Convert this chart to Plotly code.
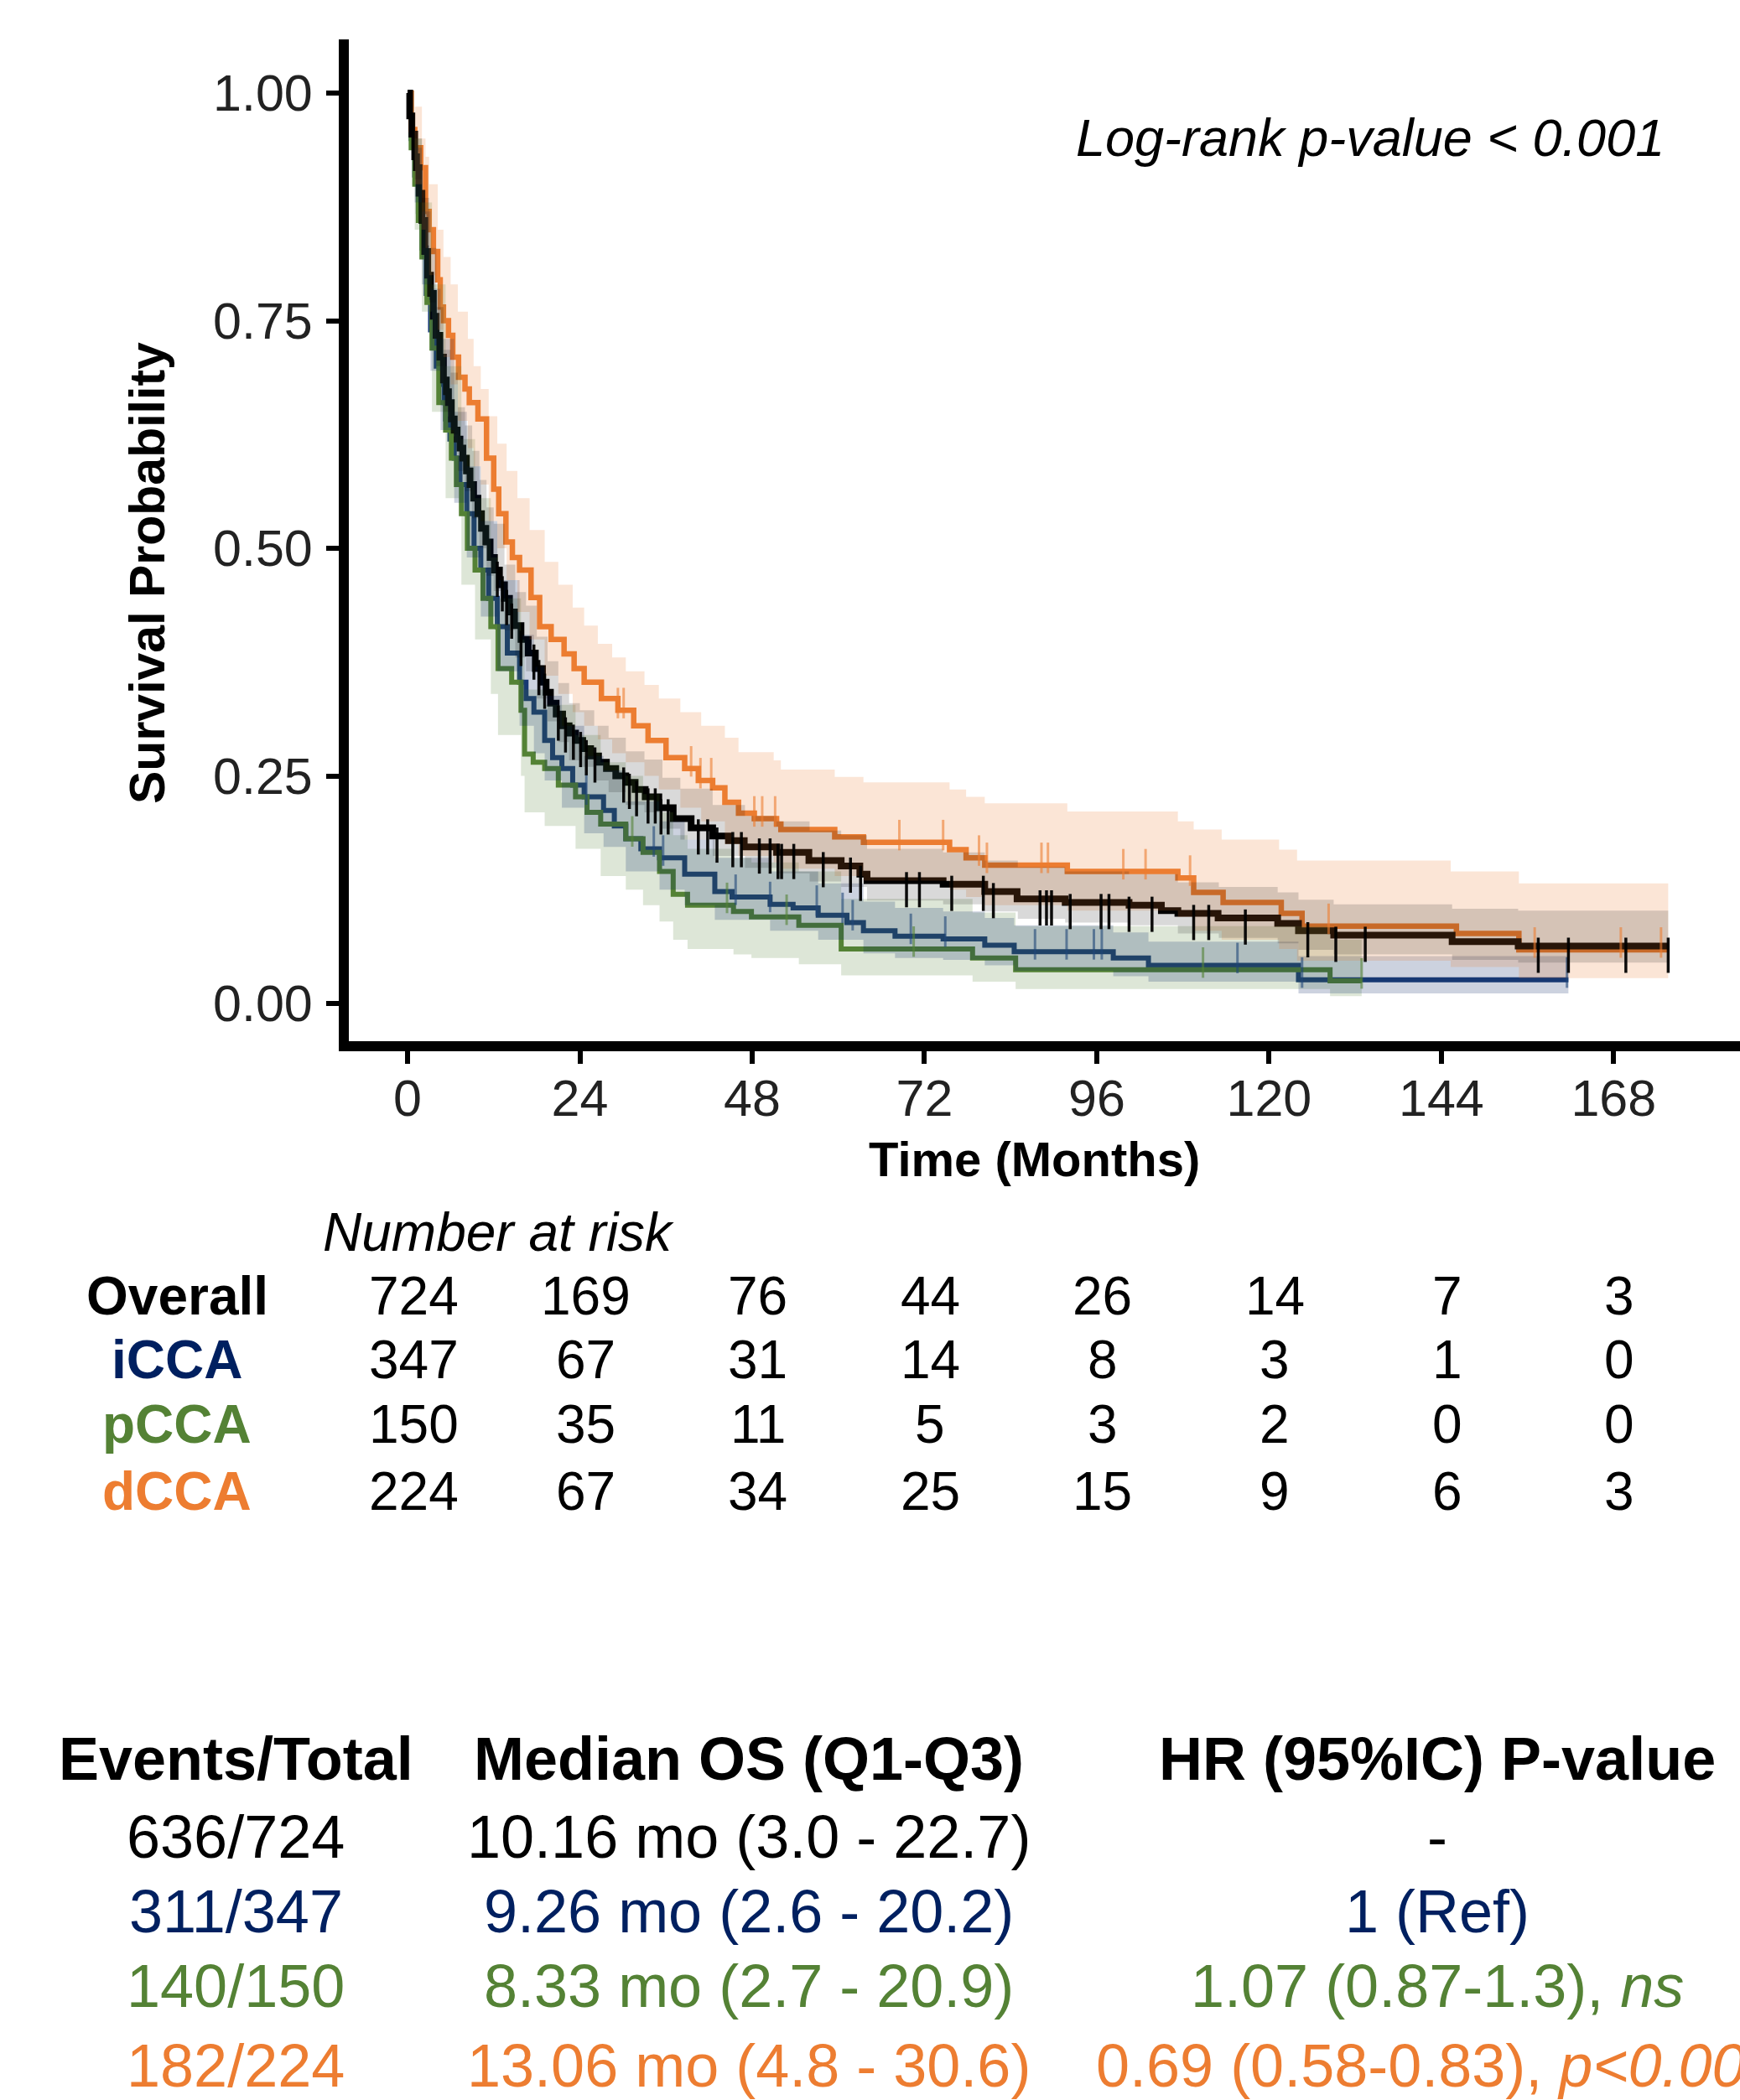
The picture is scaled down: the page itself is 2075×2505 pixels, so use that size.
import plotly.graph_objects as go
import numpy as np

# ---------------- data ----------------
OVERALL_T = [0, 0.3, 0.6, 1.0, 1.25, 1.6, 2.0, 2.4, 2.8, 3.2, 3.6, 3.97, 4.5, 5.0, 5.4, 5.7, 6.1, 6.5, 6.9, 7.3,
             7.7, 8.2, 8.7, 9.2, 9.8, 10.3, 10.9, 11.5, 12.1, 12.8, 13.5, 14.2, 14.9, 15.8, 16.8, 17.8, 18.8, 19.3,
             19.9, 20.7, 21.6, 22.5, 23.4, 24.4, 25.5, 26.6, 27.7, 29.0, 30.4, 31.7, 33.1, 35.0, 37.0, 39.5, 42.5,
             44.7, 46.9, 51.4, 55.9, 60.4, 63.0, 64.0, 74.6, 80.4, 84.9, 91.6, 100.5, 105.0, 107.3, 112.9, 121.2,
             124.1, 129.0, 145.5, 154.7, 175.6]
OVERALL_S = [1.0, 0.975, 0.955, 0.93, 0.918, 0.89, 0.86, 0.826, 0.80, 0.78, 0.755, 0.734, 0.71, 0.685, 0.672, 0.660,
             0.642, 0.63, 0.62, 0.61, 0.599, 0.585, 0.57, 0.555, 0.538, 0.522, 0.507, 0.49, 0.476, 0.46, 0.445, 0.43,
             0.415, 0.40, 0.385, 0.368, 0.353, 0.342, 0.330, 0.318, 0.305, 0.297, 0.289, 0.280, 0.272, 0.265, 0.258,
             0.25, 0.243, 0.235, 0.227, 0.215, 0.203, 0.193, 0.184, 0.179, 0.172, 0.166, 0.157, 0.151, 0.142, 0.135,
             0.131, 0.123, 0.115, 0.111, 0.108, 0.102, 0.099, 0.094, 0.088, 0.080, 0.075, 0.068, 0.063, 0.063]

ORANGE_T = [0, 0.5, 1.0, 1.83, 2.5, 3.0, 3.6, 4.2, 4.55, 5.0, 5.7, 6.3, 7.1, 8.0, 8.6, 9.8, 11.0, 12.0, 12.7, 13.7,
            14.6, 15.6, 17.2, 18.4, 20.0, 21.8, 23.2, 24.6, 27.0, 29.3, 31.5, 33.5, 36.0, 38.6, 40.5, 42.5, 44.2,
            46.1, 48.3, 51.4, 52.0, 59.5, 63.5, 75.5, 77.8, 80.4, 91.9, 107.3, 109.5, 113.6, 121.7, 124.6, 146.1,
            154.8, 175.6]
ORANGE_S = [1.0, 0.96, 0.94, 0.918, 0.87, 0.85, 0.826, 0.795, 0.765, 0.75, 0.734, 0.71, 0.688, 0.675, 0.660, 0.642,
            0.599, 0.565, 0.538, 0.507, 0.49, 0.476, 0.446, 0.414, 0.40, 0.384, 0.368, 0.353, 0.335, 0.322, 0.305,
            0.289, 0.27, 0.258, 0.245, 0.237, 0.221, 0.209, 0.203, 0.197, 0.191, 0.183, 0.177, 0.169, 0.160, 0.152,
            0.145, 0.138, 0.122, 0.111, 0.099, 0.085, 0.077, 0.059, 0.059]

BLUE_T = [0, 0.5, 1.0, 1.5, 2.0, 2.6, 3.2, 4.0, 4.6, 5.1, 5.3, 5.9, 6.5, 7.3, 8.25, 9.26, 10.2, 11.3, 12.5, 13.9,
          15.6, 16.5, 17.6, 19.1, 20.2, 21.5, 23.0, 24.6, 27.3, 28.8, 30.4, 32.5, 35.1, 38.6, 42.8, 45.2, 50.5,
          53.7, 57.2, 61.2, 63.5, 67.9, 74.6, 80.4, 84.5, 98.3, 103.2, 124.1, 161.7]
BLUE_S = [1.0, 0.95, 0.91, 0.87, 0.83, 0.78, 0.74, 0.70, 0.68, 0.660, 0.642, 0.62, 0.599, 0.57, 0.538, 0.50, 0.476,
          0.445, 0.414, 0.385, 0.353, 0.335, 0.320, 0.289, 0.27, 0.258, 0.24, 0.227, 0.212, 0.195, 0.181, 0.17,
          0.160, 0.142, 0.123, 0.117, 0.109, 0.105, 0.097, 0.089, 0.080, 0.074, 0.071, 0.064, 0.057, 0.050, 0.042,
          0.026, 0.026]

GREEN_T = [0, 0.5, 1.0, 1.5, 2.0, 2.7, 3.4, 4.35, 5.3, 6.1, 6.8, 7.5, 8.33, 9.4, 10.5, 11.6, 12.6, 14.5, 15.8, 16.3,
           17.5, 19.1, 21.0, 23.4, 25.0, 26.9, 30.4, 32.8, 35.1, 37.0, 39.0, 45.4, 47.9, 54.5, 60.4, 78.7, 84.7,
           128.5, 132.9]
GREEN_S = [1.0, 0.94, 0.90, 0.86, 0.82, 0.77, 0.72, 0.660, 0.63, 0.599, 0.57, 0.538, 0.50, 0.476, 0.445, 0.414,
           0.368, 0.353, 0.322, 0.274, 0.265, 0.258, 0.24, 0.227, 0.21, 0.197, 0.181, 0.166, 0.145, 0.120, 0.108,
           0.101, 0.095, 0.086, 0.060, 0.050, 0.037, 0.025, 0.025]

# confidence bands (step knots)
OV_CI_T = [0, 1, 2, 3, 4, 5, 6, 7, 8, 9, 10, 11, 12, 13.5, 15, 16.5, 18, 19.5, 21, 22.5, 24, 26, 28, 30.4, 33,
           35.5, 38, 42.5, 47, 51.4, 56, 60.4, 64, 74.6, 80.4, 85, 91.6, 100.5, 107.3, 113, 121.2, 124.1, 129,
           145.5, 154.7, 175.6]
OV_CI_LO = [1.0, 0.905, 0.83, 0.77, 0.70, 0.65, 0.625, 0.585, 0.563, 0.533, 0.50, 0.47, 0.453, 0.41, 0.38, 0.365,
            0.335, 0.31, 0.287, 0.267, 0.26, 0.245, 0.232, 0.218, 0.21, 0.192, 0.18, 0.162, 0.149, 0.143, 0.134,
            0.128, 0.113, 0.109, 0.101, 0.093, 0.089, 0.086, 0.077, 0.072, 0.066, 0.059, 0.054, 0.048, 0.045, 0.045]
OV_CI_HI = [1.0, 0.95, 0.885, 0.83, 0.765, 0.718, 0.693, 0.655, 0.635, 0.607, 0.575, 0.545, 0.527, 0.482, 0.452,
            0.437, 0.403, 0.376, 0.352, 0.33, 0.322, 0.305, 0.292, 0.277, 0.268, 0.248, 0.236, 0.218, 0.206, 0.2,
            0.19, 0.185, 0.17, 0.166, 0.157, 0.15, 0.145, 0.142, 0.133, 0.128, 0.122, 0.114, 0.109, 0.104, 0.102,
            0.102]

OR_CI_T = [0, 1, 2, 2.5, 3, 4.2, 5, 6, 7, 8.4, 9.2, 10.2, 11.3, 12.5, 13.8, 15.3, 17, 19.1, 21, 23, 24.6, 26.5,
           28.5, 30.4, 33, 35, 38, 40.9, 44.2, 46.1, 51, 52, 59.5, 63.5, 75.5, 77.8, 80.4, 91.9, 107.3, 109.5,
           113.4, 121.4, 123.9, 145.3, 154.8, 175.6]
OR_CI_HI = [1.0, 0.985, 0.95, 0.93, 0.90, 0.85, 0.82, 0.79, 0.76, 0.73, 0.70, 0.675, 0.645, 0.615, 0.585, 0.555,
            0.52, 0.485, 0.46, 0.435, 0.415, 0.395, 0.38, 0.365, 0.35, 0.335, 0.32, 0.305, 0.292, 0.276, 0.267,
            0.257, 0.249, 0.243, 0.235, 0.227, 0.220, 0.211, 0.200, 0.191, 0.180, 0.169, 0.157, 0.145, 0.132, 0.132]
OR_CI_LO = [1.0, 0.90, 0.85, 0.83, 0.80, 0.74, 0.71, 0.68, 0.64, 0.61, 0.59, 0.57, 0.53, 0.50, 0.465, 0.43, 0.40,
            0.36, 0.34, 0.32, 0.305, 0.29, 0.275, 0.265, 0.25, 0.235, 0.215, 0.20, 0.175, 0.162, 0.155, 0.148, 0.14,
            0.135, 0.125, 0.117, 0.108, 0.102, 0.095, 0.08, 0.07, 0.06, 0.047, 0.04, 0.028, 0.028]

BL_CI_T = [0, 1, 2, 3.2, 4.6, 6.5, 8.25, 10.2, 12.5, 15.6, 17.6, 19.1, 21.5, 24.6, 27.3, 30.4, 35.1, 38.6, 42.8,
           50.5, 57.2, 63.5, 67.9, 74.6, 80.4, 84.5, 98.3, 103.2, 124.1, 161.7]
BL_CI_HI = [1.0, 0.94, 0.87, 0.785, 0.73, 0.65, 0.59, 0.53, 0.465, 0.405, 0.37, 0.338, 0.305, 0.272, 0.256, 0.222,
            0.200, 0.18, 0.160, 0.145, 0.132, 0.112, 0.105, 0.101, 0.094, 0.086, 0.078, 0.068, 0.052, 0.052]
BL_CI_LO = [1.0, 0.88, 0.79, 0.695, 0.63, 0.55, 0.49, 0.425, 0.365, 0.305, 0.275, 0.245, 0.215, 0.187, 0.172, 0.145,
            0.125, 0.108, 0.092, 0.08, 0.07, 0.055, 0.05, 0.048, 0.042, 0.036, 0.03, 0.024, 0.011, 0.011]

GR_CI_T = [0, 1, 2, 3.4, 5.3, 7.5, 9.4, 11.6, 12.6, 15.8, 16.3, 19.1, 23.4, 26.9, 30.4, 32.8, 35.1, 37.0, 39.0, 45.4,
           47.9, 54.5, 60.4, 78.7, 84.7, 128.5, 132.9]
GR_CI_LO = [1.0, 0.85, 0.76, 0.65, 0.555, 0.46, 0.40, 0.34, 0.295, 0.25, 0.21, 0.195, 0.17, 0.14, 0.125, 0.108, 0.09,
            0.07, 0.06, 0.054, 0.05, 0.043, 0.031, 0.024, 0.016, 0.008, 0.008]
GR_CI_HI = [1.0, 0.95, 0.88, 0.79, 0.70, 0.62, 0.555, 0.49, 0.445, 0.40, 0.345, 0.328, 0.295, 0.265, 0.25, 0.23,
            0.21, 0.185, 0.17, 0.16, 0.155, 0.145, 0.115, 0.10, 0.085, 0.07, 0.07]

# censor times
OV_CENS = [12.5, 13.2, 13.8, 14.5, 15.8, 17.6, 18.3, 19.1, 21.0, 22.0, 23.1, 24.1, 24.9, 26.1, 30.1, 30.9, 31.9,
           33.5, 34.5, 35.3, 36.3, 40.5, 41.8, 43.1, 45.3, 46.5, 49.0, 50.5, 51.6, 52.1, 53.8, 57.9, 61.7, 63.1,
           69.5, 71.3, 75.8, 80.2, 81.6, 88.1, 89.0, 89.7, 92.3, 96.6, 97.7, 100.5, 103.7, 109.5, 111.6, 116.7,
           125.4, 129.3, 133.4, 157.5, 161.7, 169.7, 175.6]
OR_CENS = [29.3, 30.1, 39.5, 40.8, 42.3, 48.3, 49.4, 51.2, 68.5, 74.6, 79.6, 80.7, 88.3, 89.2, 99.7, 102.8, 109.0,
           128.3, 157.0, 169.0, 174.6]
BL_CENS = [24.9, 34.3, 35.6, 45.7, 50.5, 57.0, 60.6, 62.0, 70.1, 74.9, 87.4, 91.8, 95.6, 96.7, 115.6, 124.6, 161.5]
GR_CENS = [31.3, 44.5, 52.8, 70.5, 110.8, 132.9]

# risk table
RISK_TIMES = [0, 24, 48, 72, 96, 120, 144, 168]
RISK_LABELS = ["Overall", "iCCA", "pCCA", "dCCA"]
RISK_OVERALL = [724, 169, 76, 44, 26, 14, 7, 3]
RISK_ICCA = [347, 67, 31, 14, 8, 3, 1, 0]
RISK_PCCA = [150, 35, 11, 5, 3, 2, 0, 0]
RISK_DCCA = [224, 67, 34, 25, 15, 9, 6, 3]

# summary table
TABLE_HEADERS = ["Events/Total", "Median OS (Q1-Q3)", "HR (95%IC) P-value"]
EVENTS = ["636/724", "311/347", "140/150", "182/224"]
MEDIAN_OS = ["10.16 mo (3.0 - 22.7)", "9.26 mo (2.6 - 20.2)", "8.33 mo (2.7 - 20.9)", "13.06 mo (4.8 - 30.6)"]
HR_TEXT = ["-", "1 (Ref)", "1.07 (0.87-1.3), <i>ns</i>", "0.69 (0.58-0.83), <i>p&lt;0.001</i>"]

X_TICKS = [0, 24, 48, 72, 96, 120, 144, 168]
Y_TICKS = [0, 0.25, 0.5, 0.75, 1.0]
Y_TICKTEXT = ["0.00", "0.25", "0.50", "0.75", "1.00"]

# ---------------- styling ----------------
BLACK = "#000000"
NAVY_TXT = "#002060"
BLUE_LINE = "#1C3F78"
GREEN = "#548235"
ORANGE = "#ED7D31"
FONT = "Liberation Sans, Arial, Helvetica, sans-serif"

W, H = 2075, 2505
PL, PR, PT, PB = 416, 2075, 47, 1242


def pxx(px):
    return (px - PL) / (PR - PL)


def pxy(py):
    return (PB - py) / (PB - PT)


def step_at(T, S, times):
    T = np.asarray(T)
    S = np.asarray(S)
    idx = np.searchsorted(T, np.asarray(times), side="right") - 1
    idx = np.clip(idx, 0, len(S) - 1)
    return S[idx]


fig = go.Figure()

# survival lines
for T, S, col, w in [(BLUE_T, BLUE_S, BLUE_LINE, 6), (GREEN_T, GREEN_S, GREEN, 6),
                     (ORANGE_T, ORANGE_S, ORANGE, 6.5), (OVERALL_T, OVERALL_S, BLACK, 8)]:
    fig.add_trace(go.Scatter(x=T, y=S, mode="lines", line=dict(color=col, width=w, shape="hv"),
                             hoverinfo="skip", showlegend=False))

# confidence bands (drawn over the lines, semi-transparent)
for T, LO, HI, fc in [(GR_CI_T, GR_CI_LO, GR_CI_HI, "rgba(84,130,53,0.20)"),
                      (BL_CI_T, BL_CI_LO, BL_CI_HI, "rgba(0,32,96,0.20)"),
                      (OR_CI_T, OR_CI_LO, OR_CI_HI, "rgba(237,125,49,0.20)"),
                      (OV_CI_T, OV_CI_LO, OV_CI_HI, "rgba(0,0,0,0.15)")]:
    fig.add_trace(go.Scatter(x=T, y=LO, mode="lines", line=dict(width=0, shape="hv"),
                             hoverinfo="skip", showlegend=False))
    fig.add_trace(go.Scatter(x=T, y=HI, mode="lines", line=dict(width=0, shape="hv"),
                             fill="tonexty", fillcolor=fc, hoverinfo="skip", showlegend=False))

# censor marks
for T, S, C, col, size, off, lw in [
        (GREEN_T, GREEN_S, GR_CENS, "rgba(84,130,53,0.6)", 26, 0.008, 3),
        (BLUE_T, BLUE_S, BL_CENS, "rgba(31,70,120,0.6)", 26, 0.008, 3),
        (ORANGE_T, ORANGE_S, OR_CENS, "rgba(237,125,49,0.6)", 26, 0.008, 3),
        (OVERALL_T, OVERALL_S, OV_CENS, "rgba(0,0,0,0.95)", 30, -0.010, 3.5)]:
    yv = step_at(T, S, C) + off
    fig.add_trace(go.Scatter(x=C, y=yv, mode="markers",
                             marker=dict(symbol="line-ns", size=size, line=dict(color=col, width=lw)),
                             hoverinfo="skip", showlegend=False))

axis_common = dict(showline=True, linewidth=12, linecolor="black", ticks="outside", ticklen=15, tickwidth=6,
                   tickcolor="black", showgrid=False, zeroline=False,
                   tickfont=dict(family=FONT, size=61, color="#222222"))

fig.update_layout(
    width=W, height=H,
    margin=dict(l=PL, r=W - PR, t=PT, b=H - PB, pad=0),
    plot_bgcolor="white", paper_bgcolor="white",
    showlegend=False,
    font=dict(family=FONT, color="black"),
    xaxis=dict(range=[-8.18, 185.6], tickvals=X_TICKS, ticklabelstandoff=-11, **axis_common),
    yaxis=dict(range=[-0.0414, 1.059], tickvals=Y_TICKS, ticktext=Y_TICKTEXT, ticklabelstandoff=4,
               **axis_common),
)

ann = []
# axis titles
ann.append(dict(text="<b>Time (Months)</b>", x=pxx(1233), y=pxy(1382), xref="paper", yref="paper",
                showarrow=False, xanchor="center", yanchor="middle", font=dict(size=58, family=FONT, color="black")))
ann.append(dict(text="<b>Survival Probability</b>", x=pxx(176), y=pxy(684), xref="paper", yref="paper",
                showarrow=False, xanchor="center", yanchor="middle", textangle=-90,
                font=dict(size=59, family=FONT, color="black")))
# log-rank
ann.append(dict(text="<i>Log-rank p-value &lt; 0.001</i>", x=pxx(1634), y=pxy(164), xref="paper", yref="paper",
                showarrow=False, xanchor="center", yanchor="middle", font=dict(size=63, family=FONT, color="black")))

# risk table
ann.append(dict(text="<i>Number at risk</i>", x=pxx(383), y=pxy(1470), xref="paper", yref="paper",
                showarrow=False, xanchor="left", yanchor="middle", font=dict(size=64, family=FONT, color="black")))
row_y = [1546, 1622, 1699, 1779]
row_cols = [BLACK, NAVY_TXT, GREEN, ORANGE]
row_vals = [RISK_OVERALL, RISK_ICCA, RISK_PCCA, RISK_DCCA]
for lab, yy, col, vals in zip(RISK_LABELS, row_y, row_cols, row_vals):
    ann.append(dict(text="<b>%s</b>" % lab, x=pxx(211), y=pxy(yy), xref="paper", yref="paper",
                    showarrow=False, xanchor="center", yanchor="middle",
                    font=dict(size=64, family=FONT, color=col)))
    for t, v in zip(RISK_TIMES, vals):
        ann.append(dict(text=str(v), x=t, y=pxy(yy), xref="x", yref="paper", xshift=7,
                        showarrow=False, xanchor="center", yanchor="middle",
                        font=dict(size=64, family=FONT, color="black")))

# summary table
col_x = [281, 893, 1714]
for hx, htxt in zip(col_x, TABLE_HEADERS):
    ann.append(dict(text="<b>%s</b>" % htxt, x=pxx(hx), y=pxy(2098), xref="paper", yref="paper",
                    showarrow=False, xanchor="center", yanchor="middle",
                    font=dict(size=72, family=FONT, color="black")))
tab_y = [2191, 2280, 2369, 2464]
for i, (yy, col) in enumerate(zip(tab_y, row_cols)):
    for cx, txt in zip(col_x, [EVENTS[i], MEDIAN_OS[i], HR_TEXT[i]]):
        ann.append(dict(text=txt, x=pxx(cx), y=pxy(yy), xref="paper", yref="paper",
                        showarrow=False, xanchor="center", yanchor="middle",
                        font=dict(size=72, family=FONT, color=col)))

fig.update_layout(annotations=ann)
fig.write_html("out.html", config={"displayModeBar": False})

# remove the browser's default page margin so the figure sits at the window's top-left corner
with open("out.html", "r", encoding="utf-8") as f:
    html = f.read()
html = html.replace("<head>", "<head><style>html,body{margin:0;padding:0;overflow:hidden;}</style>", 1)
with open("out.html", "w", encoding="utf-8") as f:
    f.write(html)
